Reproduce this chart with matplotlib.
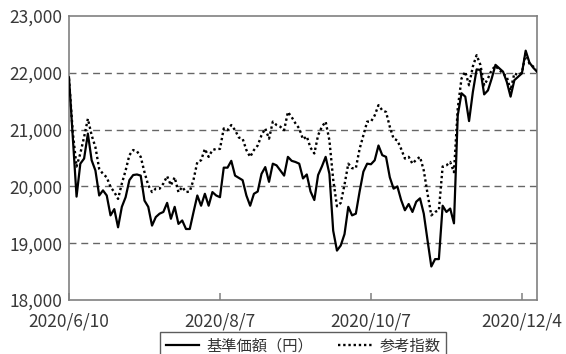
import matplotlib
matplotlib.use("Agg")
import matplotlib.pyplot as plt
import numpy as np
import pandas as pd

plt.rcParams['font.family'] = ['Noto Sans CJK JP', 'DejaVu Sans']

# 日本の休場日（営業日ベースの横軸）
holidays = ['2020-07-23', '2020-07-24', '2020-08-10', '2020-09-21',
            '2020-09-22', '2020-11-03', '2020-11-23']
start_date = '2020-06-10'
n_days = 125

# 基準価額（円）
nav = [21920, 20870, 19820, 20400, 20490, 20930, 20460, 20280, 19840, 19930,
       19840, 19490, 19600, 19280, 19640, 19810, 20110, 20200, 20210, 20190,
       19750, 19640, 19310, 19460, 19520, 19550, 19710, 19430, 19640, 19340,
       19400, 19250, 19250, 19550, 19840, 19660, 19870, 19660, 19900, 19840,
       19810, 20330, 20330, 20450, 20190, 20150, 20110, 19840, 19660, 19870,
       19910, 20220, 20340, 20080, 20400, 20370, 20280, 20190, 20520, 20450,
       20430, 20400, 20140, 20210, 19910, 19760, 20200, 20350, 20520, 20220,
       19220, 18870, 18960, 19160, 19640, 19490, 19520, 19910, 20260, 20400,
       20390, 20460, 20720, 20550, 20520, 20160, 19960, 20000, 19760, 19580,
       19690, 19550, 19730, 19790, 19520, 19050, 18590, 18720, 18720, 19660,
       19550, 19610, 19350, 21250, 21640, 21580, 21150, 21660, 22060, 22050,
       21620, 21690, 21900, 22140, 22080, 22020, 21840, 21580, 21870, 21930,
       21990, 22390, 22180, 22090, 22020]

# 参考指数
ref = [21900, 20950, 20350, 20580, 20870, 21190, 20900, 20690, 20310, 20220,
       20160, 19990, 19900, 19780, 20050, 20280, 20550, 20640, 20620, 20520,
       20250, 20020, 19900, 19960, 19960, 20050, 20180, 20020, 20160, 19900,
       19990, 19900, 19910, 20120, 20430, 20460, 20660, 20520, 20640, 20660,
       20660, 21020, 20990, 21080, 20990, 20860, 20840, 20640, 20520, 20640,
       20720, 20900, 21020, 20840, 21140, 21080, 21050, 20990, 21310, 21220,
       21110, 21020, 20830, 20880, 20680, 20580, 20900, 21050, 21140, 20810,
       20120, 19650, 19710, 20030, 20400, 20320, 20320, 20660, 20900, 21140,
       21140, 21250, 21430, 21340, 21310, 21050, 20840, 20810, 20660, 20490,
       20520, 20400, 20470, 20520, 20280, 19870, 19490, 19550, 19580, 20350,
       20370, 20430, 20250, 21370, 21900, 22020, 21780, 22110, 22310, 22140,
       21780, 21900, 22050, 22120, 22050, 21990, 21930, 21690, 21990, 21960,
       22000, 22340, 22160, 22110, 22050]

tick_idx = [0, 40, 80, 120]
yticks = [18000, 19000, 20000, 21000, 22000, 23000]

dates = pd.bdate_range(start_date, periods=n_days, freq='C', holidays=holidays)
x = np.arange(n_days)
tick_labels = [f"{dates[i].year}/{dates[i].month}/{dates[i].day}" for i in tick_idx]

fig = plt.figure(figsize=(5.66, 3.54), dpi=100)
ax = fig.add_axes([69/566, 1-300/354, (537-69)/566, (300-16)/354])

for v in yticks[1:-1]:
    ax.axhline(v, color='#666666', lw=1.0, ls=(0, (5, 3.5)), zorder=1)

ax.plot(x, nav, color='black', lw=1.6, label='基準価額（円）', zorder=3)
ax.plot(x, ref, color='black', lw=1.7, ls=(0, (1, 1.2)), label='参考指数', zorder=2)

ax.set_xlim(0, n_days - 1)
ax.set_ylim(18000, 23000)
ax.set_yticks(yticks)
ax.set_yticklabels([f"{v:,}" for v in yticks])
ax.set_xticks(tick_idx)
ax.set_xticklabels(tick_labels)

for s in ax.spines.values():
    s.set_color('#808080')
    s.set_linewidth(1.2)

ax.tick_params(axis='y', length=0, pad=5, labelsize=12.5, labelcolor='#383838')
ax.tick_params(axis='x', direction='in', length=5, width=1.1, color='#808080',
               pad=9, labelsize=12.5, labelcolor='#383838')

leg = ax.legend(loc='upper center', bbox_to_anchor=(0.5, -(332-300)/284), ncol=2,
                frameon=True, fancybox=False, fontsize=11, handlelength=2.2,
                handletextpad=0.5, columnspacing=1.6, borderpad=0.35,
                borderaxespad=0)
leg.get_frame().set_edgecolor('#333333')
leg.get_frame().set_linewidth(1.0)
for t in leg.get_texts():
    t.set_color('#333333')

fig.savefig('out.png', dpi=100)
